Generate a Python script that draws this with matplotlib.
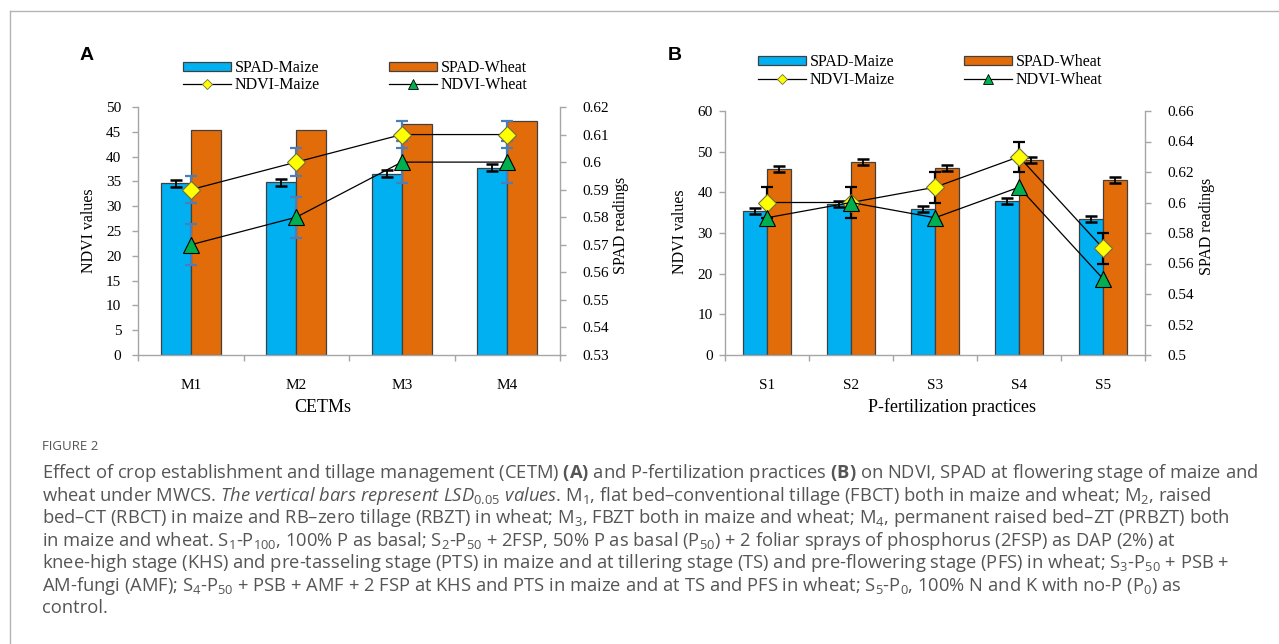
import matplotlib
matplotlib.use("Agg")
import matplotlib.pyplot as plt
from matplotlib.lines import Line2D
from matplotlib.patches import Patch
import numpy as np

plt.rcParams['font.family'] = ['Liberation Serif', 'DejaVu Serif']
plt.rcParams['mathtext.fontset'] = 'custom'
plt.rcParams['mathtext.rm'] = 'Open Sans'
plt.rcParams['mathtext.it'] = 'Open Sans:italic'
plt.rcParams['mathtext.bf'] = 'Open Sans:bold'
plt.rcParams['mathtext.default'] = 'regular'

# ---------------- data ----------------
cats_A = ['M1', 'M2', 'M3', 'M4']
spad_maize_A = [34.6, 34.8, 36.5, 37.8]
spad_maize_A_err = [0.7, 0.7, 0.7, 0.7]
spad_wheat_A = [45.3, 45.3, 46.5, 47.2]
ndvi_maize_A = [0.59, 0.60, 0.61, 0.61]
ndvi_maize_A_err = [0.005, 0.005, 0.005, 0.005]
ndvi_wheat_A = [0.57, 0.58, 0.60, 0.60]
ndvi_wheat_A_err = [0.0075, 0.0075, 0.0075, 0.0075]

cats_B = ['S1', 'S2', 'S3', 'S4', 'S5']
spad_maize_B = [35.3, 37.1, 35.9, 37.9, 33.4]
spad_maize_B_err = [0.75, 0.75, 0.75, 0.75, 0.75]
spad_wheat_B = [45.7, 47.5, 46.0, 48.0, 43.0]
spad_wheat_B_err = [0.75, 0.75, 0.75, 0.75, 0.75]
ndvi_maize_B = [0.60, 0.60, 0.61, 0.63, 0.57]
ndvi_maize_B_err = [0.01, 0.01, 0.01, 0.01, 0.01]
ndvi_wheat_B = [0.59, 0.60, 0.59, 0.61, 0.55]

left_ticks_A = [0, 5, 10, 15, 20, 25, 30, 35, 40, 45, 50]
right_ticks_A = [0.53, 0.54, 0.55, 0.56, 0.57, 0.58, 0.59, 0.60, 0.61, 0.62]
left_ticks_B = [0, 10, 20, 30, 40, 50, 60]
right_ticks_B = [0.50, 0.52, 0.54, 0.56, 0.58, 0.60, 0.62, 0.64, 0.66]

legend_labels = ['SPAD-Maize', 'SPAD-Wheat', 'NDVI-Maize', 'NDVI-Wheat']
left_label = 'NDVI values'
right_label = 'SPAD readings'
xlabel_A = 'CETMs'
xlabel_B = 'P-fertilization practices'

caption_title = 'FIGURE 2'
caption_lines = [
    r"Effect of crop establishment and tillage management (CETM) $\mathbf{(A)}$ and P-fertilization practices $\mathbf{(B)}$ on NDVI, SPAD at flowering stage of maize and",
    r"wheat under MWCS. $\mathit{The\ vertical\ bars\ represent\ LSD_{0.05}\ values}$. M$_1$, flat bed–conventional tillage (FBCT) both in maize and wheat; M$_2$, raised",
    r"bed–CT (RBCT) in maize and RB–zero tillage (RBZT) in wheat; M$_3$, FBZT both in maize and wheat; M$_4$, permanent raised bed–ZT (PRBZT) both",
    r"in maize and wheat. S$_1$-P$_{100}$, 100% P as basal; S$_2$-P$_{50}$ + 2FSP, 50% P as basal (P$_{50}$) + 2 foliar sprays of phosphorus (2FSP) as DAP (2%) at",
    r"knee-high stage (KHS) and pre-tasseling stage (PTS) in maize and at tillering stage (TS) and pre-flowering stage (PFS) in wheat; S$_3$-P$_{50}$ + PSB +",
    r"AM-fungi (AMF); S$_4$-P$_{50}$ + PSB + AMF + 2 FSP at KHS and PTS in maize and at TS and PFS in wheat; S$_5$-P$_0$, 100% N and K with no-P (P$_0$) as",
    r"control.",
]

# ---------------- style ----------------
C_MAIZE = '#00B0F0'
C_WHEAT = '#E36C0A'
C_EDGE = '#404040'
C_SPINE = '#A6A6A6'
C_YEL = '#FFFF00'
C_GRN = '#00B050'
C_ERR_A = '#4A7EBB'

W, H = 1279, 644
fig = plt.figure(figsize=(W / 100, H / 100), dpi=100)


def fx(px):
    return px / W


def fy(py):
    return 1 - py / H


def panel(rect, cats, sm, sm_err, sw, sw_err, nm, nm_err, nw, nw_err,
          lticks, rticks, err_color, lpad, rpad):
    ax = fig.add_axes(rect)
    n = len(cats)
    x = np.arange(n)
    bw = 0.285
    ax.bar(x - bw / 2, sm, bw, color=C_MAIZE, edgecolor=C_EDGE, linewidth=0.9, zorder=2)
    ax.bar(x + bw / 2, sw, bw, color=C_WHEAT, edgecolor=C_EDGE, linewidth=0.9, zorder=2)
    if sm_err is not None:
        ax.errorbar(x - bw / 2, sm, yerr=sm_err, fmt='none', ecolor='black',
                    elinewidth=1.3, capsize=4, capthick=1.8, zorder=3)
    if sw_err is not None:
        ax.errorbar(x + bw / 2, sw, yerr=sw_err, fmt='none', ecolor='black',
                    elinewidth=1.3, capsize=4, capthick=1.8, zorder=3)
    ax.set_xlim(-0.5, n - 0.5)
    ax.set_ylim(lticks[0], lticks[-1])
    ax.set_yticks(lticks)
    ax.set_yticklabels([f"{v:g}" for v in lticks])
    ax.set_xticks(x)
    ax.set_xticklabels(cats)
    ax.set_xticks(np.arange(n + 1) - 0.5, minor=True)
    ax.tick_params(axis='x', which='major', length=0, pad=17, labelsize=11)
    ax.tick_params(axis='x', which='minor', length=4, color=C_SPINE, width=1, direction='out')
    ax.tick_params(axis='y', length=4, color=C_SPINE, width=1, direction='out',
                   labelsize=11, pad=lpad)
    for s in ['top', 'right']:
        ax.spines[s].set_visible(False)
    for s in ['left', 'bottom']:
        ax.spines[s].set_color(C_SPINE)
        ax.spines[s].set_linewidth(1)

    ax2 = ax.twinx()
    ax2.set_ylim(rticks[0], rticks[-1])
    ax2.set_yticks(rticks)
    ax2.set_yticklabels([f"{round(v, 2):g}" for v in rticks])
    ax2.tick_params(axis='y', length=4, color=C_SPINE, width=1, direction='out',
                    labelsize=11, pad=rpad)
    for s in ['top', 'left', 'bottom']:
        ax2.spines[s].set_visible(False)
    ax2.spines['right'].set_color(C_SPINE)
    ax2.spines['right'].set_linewidth(1)

    if nm_err is not None:
        ax2.errorbar(x, nm, yerr=nm_err, fmt='none', ecolor=err_color,
                     elinewidth=1.6, capsize=4.3, capthick=1.6, zorder=3)
    if nw_err is not None:
        ax2.errorbar(x, nw, yerr=nw_err, fmt='none', ecolor=err_color,
                     elinewidth=1.6, capsize=4.3, capthick=1.6, zorder=3)
    ax2.plot(x, nm, color='black', lw=0.9, marker='D', ms=9, mfc=C_YEL,
             mec='#6f6f40', mew=0.8, zorder=4)
    ax2.plot(x, nw, color='black', lw=0.9, marker='^', ms=11, mfc=C_GRN,
             mec='black', mew=0.8, zorder=5)
    return ax, ax2


# Panel A
axA, axA2 = panel([fx(138), fy(355), fx(560) - fx(138), fy(107) - fy(355)],
                  cats_A, spad_maize_A, spad_maize_A_err, spad_wheat_A, None,
                  ndvi_maize_A, ndvi_maize_A_err, ndvi_wheat_A, ndvi_wheat_A_err,
                  left_ticks_A, right_ticks_A, C_ERR_A, 8, 12)
# Panel B
axB, axB2 = panel([fx(725), fy(355), fx(1145) - fx(725), fy(111) - fy(355)],
                  cats_B, spad_maize_B, spad_maize_B_err, spad_wheat_B, spad_wheat_B_err,
                  ndvi_maize_B, ndvi_maize_B_err, ndvi_wheat_B, None,
                  left_ticks_B, right_ticks_B, 'black', 5, 12)

# axis titles
for (xl, xr_, xc, xt, yc) in [(89, 621, 323, xlabel_A, 231), (680, 1207, 952, xlabel_B, 232)]:
    fig.text(fx(xl), fy(yc), left_label, rotation=90, ha='center', va='center', fontsize=11.5)
    fig.text(fx(xr_), fy(yc - 6), right_label, rotation=90, ha='center', va='center', fontsize=11.5)
    fig.text(fx(xc), fy(407), xt, ha='center', va='center', fontsize=13)

# panel letters
fig.text(fx(80), fy(55), 'A', fontsize=14, fontweight='bold', family='Liberation Sans',
         ha='left', va='center')
fig.text(fx(668), fy(55), 'B', fontsize=14, fontweight='bold', family='Liberation Sans',
         ha='left', va='center')

# legends
def make_handles():
    return [Patch(facecolor=C_MAIZE, edgecolor=C_EDGE, linewidth=0.9),
            Line2D([], [], color='black', lw=0.9, marker='D', ms=5.5, mfc=C_YEL, mec='#6f6f40', mew=0.6),
            Patch(facecolor=C_WHEAT, edgecolor=C_EDGE, linewidth=0.9),
            Line2D([], [], color='black', lw=0.9, marker='^', ms=6.5, mfc=C_GRN, mec='black', mew=0.6)]

leg_order = [legend_labels[0], legend_labels[2], legend_labels[1], legend_labels[3]]
for (lx, ly, lsp) in [(183, 60, 0.05), (758, 54, 0.15)]:
    fig.legend(make_handles(), leg_order, ncol=2, loc='upper left',
               bbox_to_anchor=(fx(lx), fy(ly)), frameon=False, fontsize=11.5,
               handlelength=3.0, handleheight=0.45, handletextpad=0.25,
               columnspacing=4.3, labelspacing=lsp, borderpad=0, borderaxespad=0)

# frame lines
fig.add_artist(Line2D([fx(10), fx(W)], [fy(11), fy(11)], color='#B4B4B4', lw=1))
fig.add_artist(Line2D([fx(10), fx(10)], [fy(11), fy(H)], color='#B4B4B4', lw=1))

# caption
CAP_COLOR = '#555555'
fig.text(fx(42), fy(447), caption_title, fontsize=9.5, family='Open Sans', color=CAP_COLOR,
         ha='left', va='center')
renderer = fig.canvas.get_renderer()
fs = 12
t0 = fig.text(fx(42), fy(473), caption_lines[0], fontsize=fs, family='Open Sans',
              color=CAP_COLOR, ha='left', va='center')
wpx = t0.get_window_extent(renderer).width
fs = fs * 1216 / wpx
t0.set_fontsize(fs)
ys = [473, 496, 518, 541, 563, 586, 608]
for line, yy in zip(caption_lines[1:], ys[1:]):
    fig.text(fx(42), fy(yy), line, fontsize=fs, family='Open Sans',
             color=CAP_COLOR, ha='left', va='center')

fig.savefig('out.png', dpi=100)
